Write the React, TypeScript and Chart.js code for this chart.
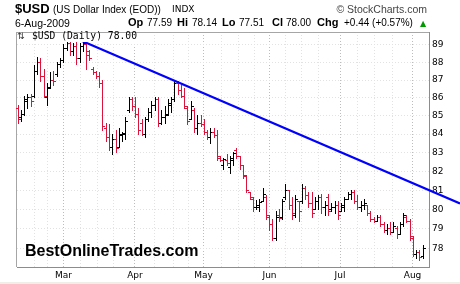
import React, { useEffect, useRef } from 'react';
import { Chart, registerables } from 'chart.js';

Chart.register(...registerables);

// ---- data (index 0 = 9-Feb-2009 ... index 124 = 6-Aug-2009) ----
const opens = [
  85.4, 84.9, 85.1, 85.8, 86.0, 86.1, 87.5, 88.0, 87.2, 86.0,
  86.6, 87.0, 87.3, 87.9, 88.1, 88.8, 89.1, 88.6, 88.9, 88.2,
  88.9, 89.0, 88.6, 87.6, 87.4, 87.2, 86.8, 84.3, 83.8, 83.3,
  83.7, 83.3, 83.9, 84.0, 85.3, 85.9, 85.5, 85.1, 84.6, 84.0,
  84.8, 85.2, 85.6, 85.9, 84.6, 84.9, 85.1, 85.6, 85.9, 86.8,
  86.4, 86.1, 85.4, 84.8, 85.3, 84.3, 84.6, 84.5, 84.1, 83.8,
  84.1, 83.9, 82.7, 82.3, 82.6, 82.2, 82.6, 83.1, 82.8, 82.3,
  81.7, 80.9, 80.5, 80.1, 80.1, 80.4, 80.6, 79.6, 79.2, 78.5,
  79.7, 79.6, 80.6, 81.0, 80.2, 79.7, 80.4, 80.4, 81.1, 80.7,
  80.3, 80.0, 80.4, 80.6, 80.1, 80.6, 80.0, 80.1, 80.2, 79.9,
  80.1, 80.5, 80.8, 80.9, 80.4, 80.1, 80.2, 80.2, 79.8, 79.5,
  79.4, 79.6, 79.2, 78.9, 79.0, 78.8, 79.0, 78.7, 79.2, 79.6,
  79.4, 78.5, 77.7, 77.8, 77.59,
];
const highs = [
  85.6, 85.3, 86.1, 86.2, 86.2, 87.8, 88.3, 88.2, 87.6, 86.8,
  87.4, 87.5, 88.0, 88.2, 89.0, 89.2, 89.2, 89.1, 89.2, 89.1,
  89.25, 89.0, 88.7, 87.7, 87.5, 87.4, 87.0, 84.6, 84.5, 84.0,
  84.2, 84.3, 84.1, 84.9, 86.0, 86.0, 86.0, 85.4, 84.8, 84.9,
  85.4, 85.8, 86.0, 86.0, 85.3, 85.5, 85.9, 86.0, 86.95, 86.9,
  86.7, 86.5, 85.5, 85.8, 85.4, 85.0, 85.0, 84.8, 84.2, 84.3,
  84.3, 84.2, 82.8, 82.7, 82.9, 82.8, 83.0, 83.2, 82.8, 82.3,
  81.8, 80.9, 80.6, 80.45, 80.5, 81.1, 80.7, 79.7, 79.5, 79.9,
  80.0, 80.5, 81.3, 81.0, 80.6, 80.7, 80.4, 81.3, 81.2, 80.9,
  80.9, 80.6, 80.7, 80.8, 80.4, 80.8, 80.3, 80.4, 80.4, 80.3,
  80.6, 80.9, 81.0, 81.0, 80.7, 80.4, 80.5, 80.2, 79.9, 79.6,
  79.7, 79.7, 79.3, 79.2, 79.3, 79.3, 79.1, 79.3, 79.8, 79.7,
  79.5, 78.6, 77.9, 77.9, 78.14,
];
const lows = [
  84.6, 84.7, 85.0, 85.4, 85.5, 86.0, 87.3, 86.9, 86.0, 85.6,
  86.5, 86.7, 87.2, 87.7, 88.0, 88.7, 88.4, 88.4, 87.9, 88.0,
  88.6, 87.6, 88.1, 87.3, 87.1, 86.6, 84.2, 83.6, 83.1, 82.9,
  83.0, 83.3, 83.6, 83.7, 85.2, 85.3, 84.9, 84.0, 83.9, 83.8,
  84.7, 84.9, 85.3, 84.4, 84.5, 84.6, 85.0, 85.2, 85.8, 86.2,
  86.0, 85.4, 84.5, 84.8, 84.1, 84.0, 84.4, 84.0, 83.7, 83.5,
  83.8, 82.6, 82.5, 82.1, 82.3, 81.9, 82.3, 82.7, 82.1, 81.6,
  80.9, 80.5, 79.9, 80.0, 79.9, 80.4, 79.5, 78.9, 78.4, 78.4,
  79.4, 79.5, 80.5, 80.0, 79.5, 79.6, 79.4, 80.3, 80.5, 80.1,
  79.6, 80.0, 80.0, 79.8, 79.7, 79.7, 79.9, 79.8, 79.5, 79.9,
  79.9, 80.5, 80.5, 80.3, 80.0, 79.9, 80.0, 79.7, 79.4, 79.3,
  79.4, 79.1, 78.8, 78.7, 78.7, 78.8, 78.5, 78.7, 79.1, 79.3,
  78.4, 77.6, 77.5, 77.4, 77.51,
];
const closes = [
  84.8, 85.1, 85.9, 86.0, 85.8, 87.5, 88.0, 87.2, 86.1, 86.5,
  87.0, 86.9, 87.9, 88.1, 88.8, 89.1, 88.6, 88.9, 88.2, 88.9,
  89.1, 88.4, 88.2, 87.4, 87.2, 86.8, 84.4, 83.8, 83.3, 83.7,
  83.2, 84.0, 84.05, 84.7, 85.9, 85.5, 85.1, 84.2, 84.0, 84.8,
  85.2, 85.6, 85.9, 84.6, 84.9, 85.0, 85.7, 85.9, 86.8, 86.4,
  86.1, 85.5, 84.7, 85.5, 84.3, 84.6, 84.5, 84.1, 83.8, 84.1,
  83.9, 82.8, 82.6, 82.65, 82.4, 82.7, 82.95, 82.8, 82.3, 81.8,
  81.0, 80.6, 80.1, 80.2, 80.35, 80.8, 79.7, 79.2, 78.5, 79.6,
  79.55, 80.4, 81.0, 80.2, 79.8, 80.5, 79.9, 81.1, 80.7, 80.3,
  79.8, 80.4, 80.6, 80.1, 80.2, 79.9, 80.1, 80.2, 79.7, 80.2,
  80.5, 80.8, 80.9, 80.4, 80.1, 80.2, 80.3, 79.8, 79.5, 79.4,
  79.6, 79.2, 78.9, 79.0, 78.8, 79.1, 78.7, 79.2, 79.7, 79.4,
  78.6, 77.7, 77.8, 77.56, 78.0,
];

const monthLabels = ['Mar', 'Apr', 'May', 'Jun', 'Jul', 'Aug'];
const monthGridIdx = [13.92, 35.8, 56.76, 76.96, 98.53, 120.72];
const weekGridIdx = [4.9, 8.9, 19.0, 24.2, 29.2, 41.9, 47.7, 52.2, 62.4, 67.6, 72.5, 81.7, 86.6, 91.8, 104.0, 109.2, 114.7];
const priceTicks = [78, 79, 80, 81, 82, 83, 84, 85, 86, 87, 88, 89];
const trendIdx = [19.6, 124];
const trendPrice = [89.23, 81.14];

const UP = '#000000';
const DOWN = '#dc143c';
const barColors = closes.map((c, i) => (i === 0 ? (c >= opens[0] ? UP : DOWN) : c >= closes[i - 1] ? UP : DOWN));

const ohlcPlugin = {
  id: 'ohlcTicks',
  afterDatasetsUpdate(chart: any) {
    const meta = chart.getDatasetMeta(0);
    meta.data.forEach((el: any) => {
      el.x = Math.floor(el.x) + 0.5;
      el.y = Math.floor(el.y);
      el.base = Math.ceil(el.base);
    });
  },
  beforeDatasetsDraw(chart: any) {
    const { ctx, chartArea } = chart;
    ctx.save();
    ctx.strokeStyle = '#a6a6a6';
    ctx.lineWidth = 1;
    ctx.beginPath();
    ctx.moveTo(16.5, chartArea.top);
    ctx.lineTo(16.5, chartArea.bottom);
    ctx.moveTo(16, chartArea.top + 0.5);
    ctx.lineTo(chartArea.right, chartArea.top + 0.5);
    ctx.stroke();
    ctx.restore();
  },
  afterDatasetsDraw(chart: any) {
    const { ctx } = chart;
    const y = chart.scales.y;
    const meta = chart.getDatasetMeta(0);
    ctx.save();
    meta.data.forEach((el: any, i: number) => {
      const left = Math.floor(el.x);
      ctx.fillStyle = barColors[i];
      const yo = Math.round(y.getPixelForValue(opens[i]) - 0.5);
      const yc = Math.round(y.getPixelForValue(closes[i]) - 0.5);
      ctx.fillRect(left - 2, yo, 2, 1);
      ctx.fillRect(left + 1, yc, 2, 1);
    });
    ctx.restore();
  },
  afterDraw(chart: any) {
    const { ctx } = chart;
    const xs = chart.scales.x;
    const ys = chart.scales.y;
    const x1 = xs.getPixelForValue(trendIdx[0]);
    const y1 = ys.getPixelForValue(trendPrice[0]);
    const x2 = xs.getPixelForValue(trendIdx[1]);
    const y2 = ys.getPixelForValue(trendPrice[1]);
    const xe = chart.width;
    const ye = y1 + ((y2 - y1) * (xe - x1)) / (x2 - x1);
    ctx.save();
    ctx.strokeStyle = '#0000ff';
    ctx.lineWidth = 2.2;
    ctx.beginPath();
    ctx.moveTo(x1, y1);
    ctx.lineTo(xe, ye);
    ctx.stroke();
    ctx.restore();
  },
};

const SANS = '"Liberation Sans", Arial, sans-serif';
const DV = '"DejaVu Sans", Verdana, sans-serif';
const MONO = '"DejaVu Sans Mono", monospace';

function T(props: {
  x?: number;
  right?: number;
  base: number;
  size: number;
  font?: string;
  bold?: boolean;
  color?: string;
  bg?: string;
  children: React.ReactNode;
}) {
  const { x, right, base, size, font = SANS, bold = false, color = '#000', bg, children } = props;
  const style: React.CSSProperties = {
    position: 'absolute',
    top: base - 0.846 * size,
    fontSize: size,
    lineHeight: `${size}px`,
    fontFamily: font,
    fontWeight: bold ? 700 : 400,
    color,
    whiteSpace: 'nowrap',
    background: bg,
  };
  if (x !== undefined) style.left = x;
  if (right !== undefined) style.right = right;
  return <div style={style}>{children}</div>;
}

export default function App() {
  const ref = useRef<HTMLCanvasElement>(null);

  useEffect(() => {
    if (!ref.current) return;
    const chart = new Chart(ref.current, {
      type: 'bar',
      data: {
        datasets: [
          {
            data: highs.map((h, i) => ({ x: i, y: [lows[i], h] })) as any,
            backgroundColor: barColors,
            barThickness: 1,
            borderWidth: 0,
            inflateAmount: 0,
          } as any,
        ],
      },
      options: {
        animation: false,
        responsive: false,
        maintainAspectRatio: false,
        devicePixelRatio: 1,
        layout: { padding: { left: 17, top: 32, right: 0, bottom: 0 } },
        plugins: { legend: { display: false }, tooltip: { enabled: false }, title: { display: false } },
        scales: {
          x: {
            type: 'linear',
            min: -0.306,
            max: 125.76,
            bounds: 'data',
            offset: false,
            afterBuildTicks: (s: any) => {
              s.ticks = [...monthGridIdx, ...weekGridIdx].sort((a, b) => a - b).map((v) => ({ value: v }));
            },
            afterFit: (s: any) => {
              s.height = 17;
            },
            ticks: {
              autoSkip: false,
              maxRotation: 0,
              minRotation: 0,
              padding: 3,
              color: '#000',
              font: { family: 'DejaVu Sans', size: 9 },
              callback: (v: any) => {
                const k = monthGridIdx.indexOf(Number(v));
                return k >= 0 ? monthLabels[k] : '';
              },
            },
            grid: {
              offset: false,
              drawTicks: false,
              lineWidth: 1,
              color: (ctx: any) => (ctx.tick && monthGridIdx.includes(ctx.tick.value) ? '#bcbcbc' : '#e2e2e2'),
            },
            border: { display: true, color: '#8c8c8c', dash: [1, 2] },
          } as any,
          y: {
            type: 'logarithmic',
            position: 'right',
            min: 77.07,
            max: 89.75,
            bounds: 'data',
            afterBuildTicks: (s: any) => {
              s.ticks = priceTicks.map((v) => ({ value: v }));
            },
            afterFit: (s: any) => {
              s.width = 31;
            },
            ticks: {
              autoSkip: false,
              padding: 3,
              color: '#000',
              font: { family: 'DejaVu Sans', size: 9 },
              callback: (v: any) => String(v),
            },
            grid: { drawTicks: false, color: '#e2e2e2', lineWidth: 1 },
            border: { display: true, color: '#8c8c8c', dash: [1, 2] },
          } as any,
        },
      },
      plugins: [ohlcPlugin],
    });
    return () => chart.destroy();
  }, []);

  return (
    <div style={{ position: 'absolute', left: 0, top: 0, width: 460, height: 284, background: '#fff', overflow: 'hidden' }}>
      <canvas ref={ref} width={460} height={284} style={{ position: 'absolute', left: 0, top: 0, width: 460, height: 284 }} />
      <T x={15} base={13.3} size={13} bold>$USD</T>
      <T x={53} base={13} size={10}>(US Dollar Index (EOD))</T>
      <T x={172} base={13} size={9} font={DV}>INDX</T>
      <T right={33} base={13} size={10.5} color="#444">© StockCharts.com</T>
      <T x={15} base={26.7} size={10.5}>6-Aug-2009</T>
      <T x={128} base={26.7} size={11} bold>Op</T>
      <T x={147} base={26.7} size={10}>77.59</T>
      <T x={177} base={26.7} size={11} bold>Hi</T>
      <T x={192} base={26.7} size={10}>78.14</T>
      <T x={222} base={26.7} size={11} bold>Lo</T>
      <T x={239} base={26.7} size={10}>77.51</T>
      <T x={272} base={26.7} size={11} bold>Cl</T>
      <T x={286} base={26.7} size={10}>78.00</T>
      <T x={317} base={26.7} size={11} bold>Chg</T>
      <T x={344} base={26.7} size={10}>+0.44 (+0.57%)</T>
      <T x={420} base={26.5} size={8} font={DV} color="#009900">▲</T>
      <div style={{ position: 'absolute', left: 17, top: 33, width: 122, height: 9, background: '#fff' }} />
      <T x={17} base={40} size={9} font={DV} color="#333">⇅</T>
      <T x={32} base={39.7} size={9.7} font={MONO}>$USD (Daily) 78.00</T>
      <T x={25} base={257} size={16} bold>BestOnlineTrades.com</T>
      <div style={{ position: 'absolute', left: 0, top: 282, width: 460, height: 2, background: '#efefe8' }} />
    </div>
  );
}
